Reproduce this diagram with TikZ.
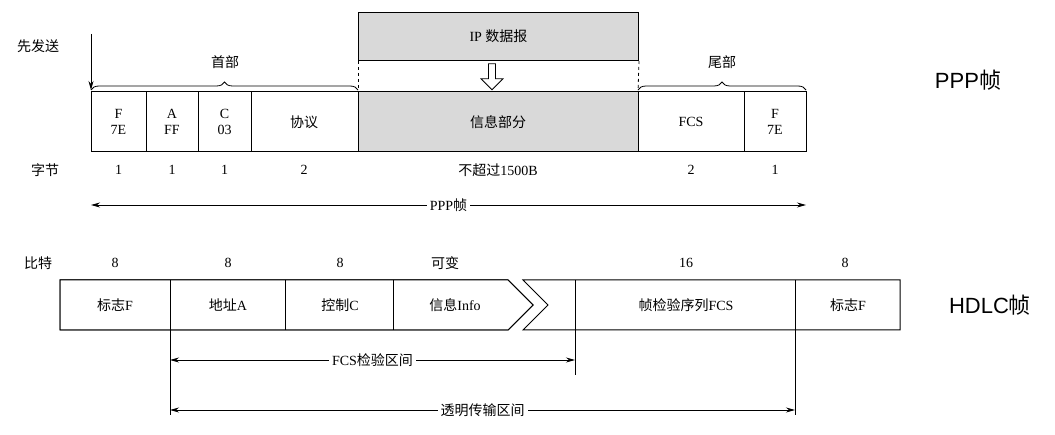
\documentclass[tikz,border=0pt]{standalone}
\usepackage{fontspec}
\setmainfont{Liberation Serif}
\newfontfamily\cjk{Noto Sans CJK SC}
\newfontfamily\lab{Liberation Sans}
\usetikzlibrary{arrows.meta,decorations.pathreplacing,shapes.arrows}
\begin{document}
\begin{tikzpicture}[x=1pt,y=-1pt,font=\fontsize{14}{16}\selectfont,
  ln/.style={line width=1pt},
  ar/.style={line width=0.8pt,-{Stealth[length=9pt,width=5pt]}},
  dar/.style={line width=0.8pt,{Stealth[length=9pt,width=5pt]}-{Stealth[length=9pt,width=5pt]}},
  lb/.style={fill=white,inner sep=3pt},
  br/.style={line width=0.8pt,decorate,decoration={brace,amplitude=8pt}}]
\useasboundingbox (0,0) rectangle (1055,435);
% IP datagram
\node[draw,ln,fill=gray!30,minimum width=280pt,minimum height=48pt,anchor=north west] (ip) at (358,12) {IP {\cjk 数据报}};
\draw[dashed,line width=0.8pt] (ip.south west) -- (358,92);
\draw[dashed,line width=0.8pt] (ip.south east) -- (638,92);
\node[draw,single arrow,shape border rotate=270,minimum height=26pt,minimum width=22pt,single arrow head extend=3pt,inner sep=1pt,line width=0.8pt] (ha) at (492,75) {};
% PPP frame
\draw[ln,fill=gray!30] (358,92) rectangle (638,152);
\draw[ln] (91,92) rectangle (806,152);
\foreach \x in {146,198,251,358,638,744} \draw[ln] (\x,92) -- (\x,152);
\node[align=center] (f1) at (118.5,122) {F\\7E};
\node[align=center] (f2) at (172,122) {A\\FF};
\node[align=center] (f3) at (224.5,122) {C\\03};
\node (f4) at (304,122) {\cjk 协议};
\node (f5) at (498,122) {\cjk 信息部分};
\node (f6) at (691,122) {FCS};
\node[align=center] (f7) at (775,122) {F\\7E};
\draw[br] (91,90) -- (358,90);
\node (h1) at (225,62) {\cjk 首部};
\draw[br] (638,90) -- (806,90);
\node (h2) at (722,62) {\cjk 尾部};
\node (xf) at (38,46) {\cjk 先发送};
\coordinate (xa) at (91,34);
\coordinate (xb) at (91,90);
\draw[ar] (xa) -- (xb);
\node at (45,170) {\cjk 字节};
\foreach \x/\t in {118.5/1,172/1,224.5/1,304/2,691/2,775/1} \node at (\x,170) {\t};
\node at (498,170) {{\cjk 不超过}1500B};
\coordinate (p1) at (91,205); \coordinate (p2) at (806,205);
\draw[dar] (p1) -- node[lb] {PPP{\cjk 帧}} (p2);
\node[font=\lab\fontsize{22}{24}\selectfont] at (968,80) {PPP{\cjk 帧}};
% HDLC
\node at (38,263) {\cjk 比特};
\foreach \x/\t in {115/8,228/8,340/8,686/16,845/8} \node at (\x,263) {\t};
\node at (445,263) {\cjk 可变};
\draw[ln] (508,280) -- (60,280) -- (60,330) -- (508,330) -- (533,305) -- cycle;
\draw[ln] (508,280) -- (533,305) -- (508,330);
\draw[ln,fill=white] (60,280) -- (508,280) -- (533,305) -- (508,330) -- (60,330) -- cycle;
\draw[ln] (523,280) -- (900,280) -- (900,330) -- (523,330) -- (548,305) -- cycle;
\foreach \x in {170,285,393} \draw[ln] (\x,280) -- (\x,330);
\draw[ln] (795,280) -- (795,415);
\draw[ln] (170,330) -- (170,415);
\draw[ln] (575,280) -- (575,375);
\node at (115,305) {{\cjk 标志}F};
\node at (228,305) {{\cjk 地址}A};
\node at (340,305) {{\cjk 控制}C};
\node at (455,305) {{\cjk 信息}Info};
\node at (686,305) {{\cjk 帧检验序列}FCS};
\node at (848,305) {{\cjk 标志}F};
\coordinate (c1) at (170,360); \coordinate (c2) at (575,360);
\draw[dar] (c1) -- node[lb,pos=0.5] {FCS{\cjk 检验区间}} (c2);
\coordinate (t1) at (170,410); \coordinate (t2) at (795,410);
\draw[dar] (t1) -- node[lb,pos=0.5] {\cjk 透明传输区间} (t2);
\node[font=\lab\fontsize{22}{24}\selectfont] at (990,305) {HDLC{\cjk 帧}};
\end{tikzpicture}
\end{document}
